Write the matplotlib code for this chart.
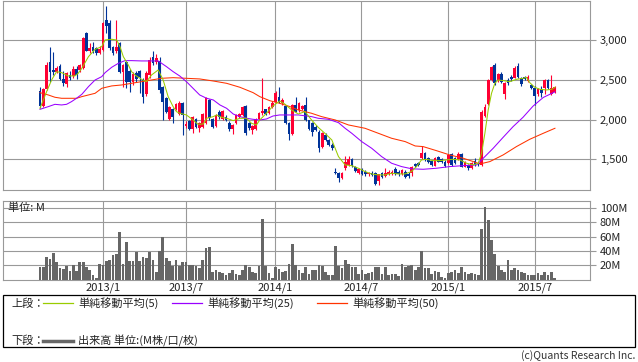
import matplotlib
matplotlib.use("Agg")
import matplotlib.pyplot as plt
from matplotlib.patches import Rectangle
from matplotlib.lines import Line2D

plt.rcParams['font.family'] = ['Noto Sans CJK JP', 'DejaVu Sans']

# weekly candles (price in yen)
opens = [2366, 2173, 2383, 2723, 2625, 2605, 2681, 2513, 2450, 2563,
         2550, 2640, 2630, 2656, 3097, 2870, 2912, 2900, 2845, 2878,
         3256, 3222, 2912, 2860, 2970, 2605, 2731, 2618, 2471, 2593,
         2618, 2500, 2324, 2563, 2786, 2730, 2744, 2408, 2269, 2009,
         2131, 2135, 2076, 2206, 1920, 1988, 1880, 2013, 1891, 1904,
         1954, 2248, 2005, 1920, 2101, 2004, 2038, 1963, 1880, 1954,
         2038, 2059, 2173, 1954, 1870, 1880, 2005, 2080, 2131, 2080,
         2164, 2227, 2282, 2206, 2173, 1954, 1820, 2185, 2122, 2135,
         2185, 1990, 1954, 1912, 1849, 1660, 1807, 1744, 1685, 1336,
         1324, 1260, 1387, 1429, 1500, 1408, 1333, 1370, 1340, 1310,
         1330, 1333, 1220, 1324, 1290, 1316, 1316, 1375, 1345, 1310,
         1345, 1320, 1324, 1438, 1450, 1513, 1576, 1513, 1475, 1421,
         1525, 1500, 1471, 1450, 1567, 1513, 1500, 1567, 1408, 1429,
         1387, 1483, 1450, 1429, 2046, 2193, 2500, 2689, 2500, 2576,
         2324, 2500, 2540, 2530, 2676, 2530, 2542, 2490, 2437, 2395,
         2320, 2380, 2395, 2500, 2320, 2350]
highs = [2410, 2400, 2730, 2912, 2850, 2670, 2700, 2614, 2600, 2610,
         2680, 2680, 2700, 3040, 3110, 2970, 2985, 2920, 2930, 3235,
         3433, 3256, 2930, 3256, 2985, 2700, 2740, 2640, 2600, 2610,
         2630, 2520, 2610, 2790, 2870, 2830, 2790, 2430, 2290, 2170,
         2150, 2210, 2230, 2220, 1980, 2000, 2050, 2020, 1970, 2080,
         2290, 2260, 2020, 2070, 2120, 2120, 2060, 1980, 1950, 2070,
         2085, 2170, 2190, 1970, 1935, 2020, 2090, 2521, 2140, 2175,
         2230, 2360, 2416, 2270, 2190, 1970, 2200, 2290, 2220, 2190,
         2290, 2000, 1970, 1930, 1870, 1840, 1830, 1760, 1700, 1387,
         1340, 1340, 1542, 1542, 1520, 1420, 1390, 1385, 1360, 1345,
         1350, 1340, 1320, 1340, 1387, 1360, 1360, 1400, 1370, 1380,
         1360, 1340, 1420, 1450, 1470, 1668, 1590, 1530, 1490, 1530,
         1540, 1520, 1490, 1570, 1580, 1530, 1590, 1580, 1480, 1440,
         1460, 1520, 1470, 2120, 2200, 2510, 2680, 2720, 2590, 2600,
         2470, 2530, 2560, 2670, 2720, 2540, 2555, 2560, 2450, 2420,
         2400, 2420, 2510, 2510, 2563, 2430]
lows = [2143, 2160, 2370, 2480, 2563, 2590, 2500, 2425, 2416, 2500,
        2530, 2513, 2600, 2640, 2860, 2836, 2836, 2820, 2830, 2870,
        3090, 2880, 2820, 2840, 2590, 2408, 2400, 2353, 2440, 2470,
        2340, 2206, 2300, 2530, 2690, 2700, 2340, 1996, 2080, 1990,
        1954, 2120, 2060, 1807, 1900, 1870, 1830, 1900, 1840, 1890,
        1940, 2000, 1900, 1910, 2010, 1995, 1980, 1860, 1820, 1940,
        2025, 2050, 1800, 1870, 1820, 1870, 1990, 2060, 2060, 2070,
        2150, 2220, 2210, 2190, 1950, 1740, 1800, 2090, 2100, 2120,
        1980, 1870, 1790, 1860, 1597, 1640, 1730, 1670, 1620, 1310,
        1218, 1250, 1370, 1410, 1400, 1340, 1320, 1300, 1290, 1290,
        1290, 1170, 1180, 1270, 1280, 1300, 1300, 1300, 1290, 1300,
        1270, 1270, 1290, 1400, 1410, 1500, 1480, 1450, 1420, 1410,
        1460, 1450, 1400, 1440, 1410, 1440, 1490, 1400, 1400, 1370,
        1380, 1420, 1420, 1420, 2030, 2180, 2490, 2440, 2480, 2460,
        2257, 2440, 2490, 2520, 2530, 2430, 2500, 2480, 2380, 2190,
        2300, 2290, 2320, 2390, 2310, 2340]
closes = [2173, 2383, 2690, 2605, 2600, 2647, 2513, 2458, 2584, 2521,
          2640, 2563, 2690, 3034, 2870, 2900, 2870, 2836, 2890, 3222,
          3180, 2900, 2836, 2912, 2605, 2690, 2471, 2479, 2576, 2509,
          2542, 2290, 2593, 2752, 2710, 2773, 2374, 2227, 2100, 2156,
          2038, 2198, 2215, 2059, 1946, 1880, 2038, 1912, 1954, 2072,
          2269, 2017, 1912, 2059, 2030, 2114, 1996, 1880, 1933, 2059,
          2072, 2156, 1837, 1891, 1921, 2005, 2080, 2114, 2072, 2164,
          2215, 2341, 2227, 2248, 1963, 1820, 2185, 2101, 2206, 2173,
          2000, 1880, 1850, 1870, 1639, 1828, 1744, 1685, 1639, 1324,
          1260, 1324, 1471, 1500, 1416, 1358, 1375, 1320, 1320, 1330,
          1300, 1186, 1316, 1282, 1324, 1345, 1345, 1316, 1316, 1360,
          1282, 1290, 1408, 1421, 1429, 1576, 1492, 1471, 1433, 1513,
          1471, 1470, 1416, 1555, 1429, 1450, 1567, 1408, 1463, 1387,
          1450, 1429, 1438, 2101, 2164, 2500, 2668, 2458, 2576, 2479,
          2458, 2458, 2510, 2655, 2542, 2446, 2510, 2542, 2395, 2303,
          2391, 2340, 2500, 2404, 2395, 2408]

# volume in millions
volumes = [18, 17, 32, 29, 37, 25, 16, 15, 19, 12,
           21, 12, 24, 25, 17, 14, 7, 3, 22, 21,
           26, 28, 34, 36, 67, 22, 53, 26, 26, 39,
           26, 32, 30, 39, 28, 11, 40, 59, 30, 26,
           19, 27, 19, 24, 24, 21, 20, 19, 16, 28,
           44, 46, 11, 14, 11, 9, 7, 10, 14, 8,
           7, 13, 21, 17, 11, 10, 19, 84, 19, 10,
           3, 18, 15, 11, 12, 22, 50, 21, 14, 10,
           17, 8, 13, 14, 20, 19, 11, 7, 6, 47,
           19, 16, 28, 22, 17, 18, 8, 13, 8, 10,
           11, 17, 17, 8, 17, 7, 8, 8, 5, 22,
           17, 19, 21, 13, 17, 40, 16, 16, 8, 12,
           11, 4, 3, 10, 11, 13, 10, 18, 11, 8,
           10, 8, 6, 71, 101, 83, 55, 36, 19, 13,
           11, 28, 14, 16, 14, 11, 9, 6, 7, 7,
           10, 7, 11, 6, 11, 2]

# moving averages, read at sample weeks
ma5_x = [0, 2.0, 3.5, 5.0, 6.5, 8.5, 10.5, 11.5, 12.6, 14.6, 16.6, 18.6, 19.6, 21.6, 23.1,
         24.1, 25.1, 26.6, 27.6, 28.6, 30.6, 32.1, 33.6, 35.6, 37.1, 38.6, 40.1, 41.1, 42.1,
         44.1, 46.1, 47.6, 49.2, 50.2, 52.2, 53.2, 54.7, 56.2, 58.2, 60.2, 62.2, 63.7, 65.2,
         66.2, 68.2, 70.2, 72.2, 73.7, 75.8, 77.8, 79.8, 81.8, 83.8, 85.8, 87.9, 88.9, 89.9,
         91.9, 93.9, 95.9, 97.9, 99.9, 101.9, 103.9, 105.9, 107.9, 109.9, 111.9, 113.4, 114.9,
         116.4, 118.4, 120.4, 122.4, 124.4, 126.5, 128.5, 130.5, 132.0, 133.0, 134.0, 135.0,
         136.0, 137.0, 138.0, 139.5, 141.5, 143.5, 145.5, 146.5, 147.5, 149.0, 150.6, 152.6,
         154.1, 155.1]
ma5_y = [2143, 2353, 2500, 2605, 2593, 2551, 2551, 2584, 2647, 2794, 2887, 2920, 3004, 3013, 3004,
         2920, 2794, 2689, 2605, 2563, 2508, 2479, 2563, 2626, 2500, 2290, 2164, 2101, 2080,
         2059, 1996, 1941, 1945, 2017, 2038, 2059, 2029, 2017, 1987, 2017, 2017, 1954, 1933,
         1996, 2080, 2172, 2235, 2198, 2122, 2071, 2101, 1996, 1903, 1828, 1744, 1639, 1534,
         1429, 1420, 1387, 1345, 1315, 1303, 1303, 1324, 1315, 1315, 1345, 1408, 1492,
         1500, 1483, 1483, 1492, 1500, 1492, 1450, 1429, 1450, 1576, 1828, 2122,
         2332, 2458, 2500, 2492, 2479, 2508, 2521, 2534, 2467, 2408, 2382, 2374,
         2382, 2408]
ma25_x = [0, 2.5, 4.5, 6.5, 8.0, 9.5, 11.0, 12.6, 14.6, 16.6, 18.6, 19.6, 21.6, 23.6, 25.6,
          27.6, 30.6, 33.6, 35.6, 38.1, 40.1, 42.1, 44.1, 46.1, 48.1, 50.2, 52.2, 54.2, 56.2,
          58.2, 60.2, 62.2, 64.2, 66.2, 68.2, 70.2, 72.2, 75.3, 77.8, 81.8, 83.8, 86.9, 89.9,
          91.9, 93.9, 96.9, 99.9, 102.9, 105.9, 108.9, 112.0, 115.4, 119.4, 123.4, 127.5,
          131.5, 133.5, 136.5, 139.5, 142.5, 145.5, 148.5, 151.6, 155.1]
ma25_y = [2130, 2164, 2193, 2185, 2193, 2227, 2269, 2319, 2416, 2500, 2542, 2592, 2660, 2710, 2744,
          2744, 2740, 2740, 2740, 2668, 2605, 2550, 2479, 2395, 2311, 2269, 2248, 2185, 2143,
          2071, 2038, 2017, 2004, 1996, 2008, 2046, 2059, 2059, 2059, 2038, 2017, 2004, 1962,
          1891, 1828, 1723, 1639, 1534, 1450, 1408, 1380, 1374, 1387, 1408, 1420,
          1429, 1513, 1639, 1777, 1912, 2030, 2170, 2280, 2350]
ma50_x = [0, 2.5, 4.5, 6.5, 8.5, 11.0, 12.6, 14.6, 16.6, 18.6, 21.6, 24.6, 27.6, 30.6, 33.6,
          36.6, 40.1, 44.1, 48.1, 52.2, 56.2, 60.2, 64.2, 66.2, 69.2, 72.2, 75.3, 77.8, 81.8,
          84.8, 88.9, 92.9, 97.9, 101.9, 105.9, 110.0, 113.0, 115.4, 119.4, 123.4, 127.5,
          130.5, 132.5, 135.5, 139.5, 143.5, 147.5, 151.6, 155.1]
ma50_y = [2340, 2311, 2282, 2269, 2269, 2269, 2290, 2311, 2332, 2395, 2425, 2437, 2458, 2479, 2500,
          2521, 2529, 2521, 2513, 2487, 2458, 2408, 2340, 2290, 2239, 2206, 2164, 2122, 2080,
          2038, 1996, 1933, 1891, 1828, 1765, 1723, 1668, 1660, 1609, 1555, 1513,
          1471, 1441, 1471, 1555, 1660, 1752, 1828, 1891]

date_ticks = [19.0, 44.0, 70.8, 96.7, 122.9, 149.1]
date_labels = ["2013/1", "2013/7", "2014/1", "2014/7", "2015/1", "2015/7"]
price_ticks = [1500, 2000, 2500, 3000]
price_labels = ["1,500", "2,000", "2,500", "3,000"]
vol_ticks = [20, 40, 60, 80, 100]
vol_labels = ["20M", "40M", "60M", "80M", "100M"]

W, H = 638, 362


def fx(px):
    return px / W


def fy(py):
    return 1 - py / H


grid_c = '#999999'
txt_c = '#222222'

fig = plt.figure(figsize=(W / 100, H / 100), dpi=100)
ax = fig.add_axes([fx(3), fy(190.3), (590 - 3) / W, (190.3 - 0.5) / H])
axv = fig.add_axes([fx(3), fy(279.7), (590 - 3) / W, (279.7 - 201.3) / H])

# candles
idx = list(range(len(opens)))
col = ['#ff0033' if c >= o else '#003399' for o, c in zip(opens, closes)]
body_low = [min(o, c) for o, c in zip(opens, closes)]
body_h = [max(abs(c - o), 8) for o, c in zip(opens, closes)]
ax.vlines(idx, lows, highs, colors=col, linewidth=0.8, zorder=2)
ax.bar(idx, body_h, bottom=body_low, width=0.82, color=col, linewidth=0, zorder=3)

# moving averages
ax.plot(ma50_x, ma50_y, color='#ff3300', lw=0.75, zorder=4)
ax.plot(ma25_x, ma25_y, color='#9900ff', lw=0.75, zorder=4)
ax.plot(ma5_x, ma5_y, color='#99cc00', lw=0.75, zorder=5)

# volume
axv.bar(idx, volumes, width=0.82, color='#666666', linewidth=0, zorder=3)

for a in (ax, axv):
    a.set_xlim(-11.14, 165.66)
    a.set_xticks(date_ticks)
    a.grid(True, color=grid_c, lw=0.8)
    a.set_axisbelow(True)
    for s in a.spines.values():
        s.set_color(grid_c)
        s.set_linewidth(0.8)
    a.tick_params(axis='y', left=False, right=True, labelleft=False, labelright=True,
                  length=4, width=0.8, color=grid_c, labelsize=8, labelcolor=txt_c, pad=3)

ax.set_ylim(1109, 3502)
ax.set_yticks(price_ticks)
ax.set_yticklabels(price_labels)
ax.tick_params(axis='x', bottom=False, labelbottom=False)

axv.set_ylim(0, 109)
axv.set_yticks(vol_ticks)
axv.set_yticklabels(vol_labels)
axv.set_xticklabels(date_labels)
axv.tick_params(axis='x', length=0, labelsize=8, labelcolor=txt_c, pad=2)

fig.text(fx(8), fy(208), '単位: M', va='center', ha='left', fontsize=8, color=txt_c)

# legend box
fig.patches.append(Rectangle((fx(3), fy(346.7)), (635 - 3) / W, (346.7 - 295) / H,
                             transform=fig.transFigure, fill=False, edgecolor='black', lw=0.9))
r1 = fy(303.3)
r2 = fy(340.5)
fig.text(fx(11), r1, '上段：', va='center', fontsize=8, color=txt_c)
fig.text(fx(11), r2, '下段：', va='center', fontsize=8, color=txt_c)
leg = [(43, 73, '#99cc00', '単純移動平均(5)'),
       (172, 202, '#9900ff', '単純移動平均(25)'),
       (317, 347, '#ff3300', '単純移動平均(50)')]
for x0, x1, c, label in leg:
    fig.add_artist(Line2D([fx(x0), fx(x1)], [r1, r1], color=c, lw=0.9, transform=fig.transFigure))
    fig.text(fx(x1 + 5), r1, label, va='center', fontsize=8, color=txt_c)
fig.add_artist(Line2D([fx(43), fx(73)], [r2, r2], color='#666666', lw=2.5, transform=fig.transFigure))
fig.text(fx(78), r2, '出来高 単位:(M株/口/枚)', va='center', fontsize=8, color=txt_c)

fig.text(fx(635), fy(356), '(c)Quants Research Inc.', ha='right', va='center', fontsize=7.5, color='#333333')

fig.savefig('out.png', dpi=100)
